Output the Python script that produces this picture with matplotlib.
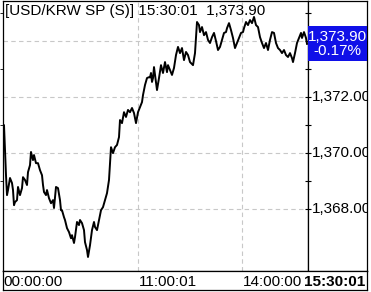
import matplotlib
matplotlib.use('Agg')
import matplotlib.pyplot as plt
from matplotlib.patches import Rectangle
from matplotlib.transforms import blended_transform_factory

plt.rcParams['font.family'] = ['Liberation Sans', 'DejaVu Sans']

# session position (chart units) and USD/KRW price
t = [3, 4, 5, 6, 7, 8, 10, 12, 13, 14, 15, 17, 18, 20, 22, 23, 25, 27, 28, 30,
     31, 33, 34, 36, 38, 40, 42, 43, 44, 46, 47, 49, 51, 53, 54, 56, 58, 60, 61, 62,
     64, 65, 67, 69, 71, 72, 74, 75, 77, 79, 80, 82, 84, 85, 87, 88, 90, 92, 94, 95,
     97, 99, 101, 103, 105, 107, 109, 110, 111, 113, 115, 117, 119, 120, 122, 124, 126, 128, 130, 132,
     134, 136, 138, 140, 142, 143, 145, 147, 149, 150, 151, 152, 153, 154, 156, 157, 159, 161, 163, 165,
     167, 168, 170, 172, 174, 176, 178, 180, 182, 184, 186, 188, 190, 193, 195, 196, 197, 199, 200, 202,
     204, 206, 208, 210, 212, 214, 216, 218, 220, 222, 224, 226, 227, 229, 231, 233, 235, 237, 239, 241,
     243, 244, 246, 248, 250, 252, 254, 256, 258, 260, 262, 264, 266, 268, 270, 272, 274, 276, 278, 280,
     282, 284, 286, 288, 290, 292, 293, 295, 297, 299, 301, 302, 304, 306, 307]
price = [1370.54, 1371.00, 1370.11, 1369.21, 1368.50, 1368.68, 1369.11, 1368.93, 1368.68, 1368.14,
         1368.25, 1368.32, 1368.79, 1368.50, 1368.75, 1369.14, 1369.04, 1368.86, 1369.32, 1369.57,
         1370.04, 1369.75, 1369.93, 1369.64, 1369.64, 1369.39, 1369.21, 1368.86, 1368.61, 1368.50,
         1368.68, 1368.39, 1368.21, 1368.32, 1368.04, 1368.79, 1368.75, 1368.32, 1367.96, 1367.96,
         1367.71, 1367.61, 1367.32, 1367.18, 1366.96, 1367.07, 1366.79, 1367.00, 1367.54, 1367.43,
         1367.61, 1367.50, 1367.25, 1366.82, 1366.54, 1366.29, 1366.71, 1367.25, 1367.54, 1367.36,
         1367.25, 1367.61, 1367.96, 1368.07, 1368.32, 1368.57, 1369.04, 1369.64, 1370.21, 1370.00,
         1370.21, 1370.29, 1370.57, 1371.18, 1371.07, 1371.46, 1371.29, 1371.54, 1371.46, 1371.61,
         1371.43, 1371.07, 1371.46, 1371.64, 1371.82, 1372.07, 1372.43, 1372.68, 1372.71, 1372.70,
         1372.86, 1372.54, 1372.68, 1373.07, 1372.54, 1372.25, 1372.68, 1373.14, 1372.86, 1373.25,
         1372.89, 1373.14, 1372.96, 1372.79, 1373.04, 1373.50, 1373.79, 1373.57, 1373.75, 1373.32,
         1373.61, 1373.50, 1373.25, 1373.14, 1373.57, 1374.14, 1374.68, 1374.57, 1374.32, 1374.50,
         1374.21, 1374.32, 1374.04, 1373.93, 1374.14, 1374.29, 1374.00, 1373.68, 1373.79, 1374.04,
         1374.29, 1374.32, 1374.46, 1374.64, 1374.39, 1374.11, 1373.75, 1373.93, 1374.11, 1374.29,
         1374.32, 1374.46, 1374.68, 1374.57, 1374.75, 1374.64, 1374.86, 1374.57, 1374.50, 1374.14,
         1373.93, 1373.75, 1373.93, 1373.68, 1374.04, 1374.32, 1374.29, 1373.93, 1373.75, 1373.68,
         1373.57, 1373.68, 1373.50, 1373.43, 1373.57, 1373.39, 1373.25, 1373.57, 1373.93, 1374.11,
         1374.29, 1374.11, 1374.32, 1374.11, 1373.90]

time_pos = [3, 138, 242]
time_labels = ['00:00:00', '11:00:01', '14:00:00']
last_time = '15:30:01'
last_price = 1373.90
change_pct = '-0.17%'
y_major = [1368, 1370, 1372, 1374]
y_minor = [1369, 1371, 1373, 1375]

W, H = 371, 292
fig = plt.figure(figsize=(W / 100, H / 100), dpi=100)
fig.patch.set_facecolor('white')

def px_rect(x0, y0, x1, y1):
    return [x0 / W, (H - y1) / H, (x1 - x0) / W, (y1 - y0) / H]

ax = fig.add_axes(px_rect(3, 1, 308, 271))
side = fig.add_axes(px_rect(308, 1, 367, 271), sharey=ax)
bot = fig.add_axes(px_rect(3, 271, 367, 290))

ylo, yhi = 1365.79, 1375.43
ax.set_xlim(3, 308)
ax.set_ylim(ylo, yhi)

grid_kw = dict(color='#c8c8c8', lw=0.8, ls=(0, (4, 3)), zorder=1)
for v in y_major:
    ax.axhline(v, **grid_kw)
for p in time_pos[1:]:
    ax.axvline(p, **grid_kw)

ax.plot(t, price, color='black', lw=1.4, zorder=3)
ax.set_xticks([])
ax.tick_params(left=False, labelleft=False)
for s in ax.spines.values():
    s.set_linewidth(0.9)

# right price scale
side.set_xlim(0, 1)
side.set_xticks([])
side.yaxis.tick_left()
side.set_yticks(y_major)
side.set_yticks(y_minor, minor=True)
side.tick_params(axis='y', which='both', direction='inout', length=4.5, width=0.8,
                 labelleft=False)
for s in side.spines.values():
    s.set_linewidth(0.9)
lab_tr = blended_transform_factory(side.transAxes, side.transData)

box_half = 0.63
for v in y_major:
    if abs(v - last_price) < box_half + 0.2:
        continue  # hidden behind the last-price badge
    side.text(0.07, v, f'{v:,.2f}', transform=lab_tr, ha='left', va='center',
              fontsize=11, clip_on=True)

# last price badge
side.add_patch(Rectangle((0, last_price - box_half), 1, 2 * box_half, transform=lab_tr,
                         facecolor='#1010e8', edgecolor='none', zorder=5))
side.text(0.5, last_price, f'{last_price:,.2f}\n{change_pct}', transform=lab_tr,
          ha='center', va='center', multialignment='center', linespacing=1.0,
          color='white', fontsize=11, zorder=6, clip_on=True)

# time row
bot.set_xticks([])
bot.set_yticks([])
for s in bot.spines.values():
    s.set_linewidth(0.9)
time_tr = blended_transform_factory(ax.transData, bot.transAxes)
for p, lab in zip(time_pos, time_labels):
    bot.text(p + 0.5, 0.2, lab, transform=time_tr, ha='left', va='baseline', fontsize=11)
bot.text(0.995, 0.2, last_time, transform=bot.transAxes, ha='right', va='baseline',
         fontsize=11, fontweight='bold')

fig.text(5 / W, (H - 15) / H, f'[USD/KRW SP (S)] {last_time}  {last_price:,.2f}',
         ha='left', va='baseline', fontsize=11)

fig.savefig('out.png', dpi=100)
